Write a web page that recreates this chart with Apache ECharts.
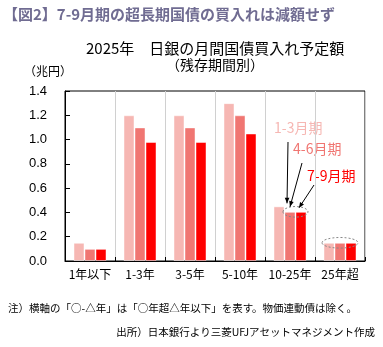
<!DOCTYPE html>
<html><head><meta charset="utf-8">
<script src="https://cdn.jsdelivr.net/npm/echarts@6/dist/echarts.min.js"></script>
<style>html,body{margin:0;padding:0;background:#fff;}#c{width:383px;height:347px;}</style>
</head><body><div id="c"></div>
<script>
const categories = ['1年以下','1-3年','3-5年','5-10年','10-25年','25年超'];
const q1 = [0.15, 1.2, 1.2, 1.3, 0.45, 0.15];
const q2 = [0.10, 1.1, 1.1, 1.2, 0.405, 0.15];
const q3 = [0.10, 0.98, 0.98, 1.05, 0.405, 0.15];
const seriesNames = ['1-3月期','4-6月期','7-9月期'];
const colors = ['#F6B7B3','#F07672','#FF0000'];
const yTicks = [0, 0.2, 0.4, 0.6, 0.8, 1.0, 1.2, 1.4];

const FONT = '"Noto Sans CJK JP", sans-serif';
const chart = echarts.init(document.getElementById('c'));
const data = [q1, q2, q3];
const option = {
  animation: false,
  textStyle: {fontFamily: FONT},
  grid: {left: 65, right: 18, top: 91, bottom: 86, show: true, borderColor: '#000', borderWidth: 1},
  xAxis: {
    type: 'category', data: categories,
    axisLine: {lineStyle: {color: '#000'}},
    axisTick: {show: true, inside: true, length: 4, interval: 0, lineStyle: {color: '#000'}},
    axisLabel: {color: '#000', fontSize: 12, fontFamily: FONT, margin: 7, interval: 0},
    splitLine: {show: true, interval: 0, lineStyle: {color: '#D0D0D0'}}
  },
  yAxis: {
    type: 'value', min: 0, max: 1.4, interval: 0.2,
    axisLine: {show: true, lineStyle: {color: '#000'}},
    axisTick: {show: true, inside: true, length: 5, lineStyle: {color: '#000'}},
    axisLabel: {color: '#000', fontSize: 13, fontFamily: 'Arial, "Liberation Sans", sans-serif', margin: 18,
      formatter: v => yTicks.includes(Math.round(v*10)/10) ? v.toFixed(1) : ''},
    splitLine: {show: false}
  },
  series: data.map((d, i) => ({
    name: seriesNames[i], type: 'bar', data: d,
    barWidth: 11, barGap: '0%',
    itemStyle: {color: colors[i], borderColor: 'rgba(255,255,255,0.45)', borderWidth: 1}
  })),
  graphic: []
};
chart.setOption(option);

// annotations
const g = [];
g.push({type:'text', left: 3, top: 7, style:{text:'【図2】7-9月期の超長期国債の買入れは減額せず', font:'bold 15px '+FONT, fill:'#706C92'}});
g.push({type:'text', left: 86, top: 41, style:{text:'2025年　日銀の月間国債買入れ予定額', font:'15px '+FONT, fill:'#000'}});
g.push({type:'text', left: 166, top: 58, style:{text:'（残存期間別）', font:'14px '+FONT, fill:'#000'}});
g.push({type:'text', left: 24, top: 65, style:{text:'（兆円）', font:'12px '+FONT, fill:'#000'}});
g.push({type:'text', left: 8, top: 303, style:{text:'注）横軸の「○-△年」は「○年超△年以下」を表す。物価連動債は除く。', font:'10.5px '+FONT, fill:'#000'}});
g.push({type:'text', right: 8, top: 327, style:{text:'出所）日本銀行より三菱UFJアセットマネジメント作成', font:'10.5px '+FONT, fill:'#000'}});

const p = (ci, v) => chart.convertToPixel({gridIndex:0}, [ci, v]);
// labels
const lab = [[274,121,seriesNames[0],colors[0]],[293,142,seriesNames[1],colors[1]],[307,169,seriesNames[2],colors[2]]];
lab.forEach(l => g.push({type:'text', left:l[0], top:l[1], style:{text:l[2], font:'14px '+FONT, fill:l[3]}}));
// ellipses around 4-6/7-9 tops
const e1 = p(4, q3[4]);
g.push({type:'ellipse', shape:{cx:e1[0]+5.5, cy:e1[1], rx:12.5, ry:5.3}, style:{fill:'none', stroke:'#888', lineWidth:1, lineDash:[2,2]}, z:100});
const e2 = p(5, q3[5]);
g.push({type:'ellipse', shape:{cx:e2[0], cy:e2[1], rx:18, ry:5.3}, style:{fill:'none', stroke:'#888', lineWidth:1, lineDash:[2,2]}, z:100});
// arrows
function arrow(x1,y1,x2,y2){
  g.push({type:'line', shape:{x1,y1,x2,y2}, style:{stroke:'#000', lineWidth:1}, z:101});
  const a = Math.atan2(y2-y1, x2-x1), L=6, w=0.4;
  g.push({type:'polygon', shape:{points:[[x2,y2],[x2-L*Math.cos(a-w), y2-L*Math.sin(a-w)],[x2-L*Math.cos(a+w), y2-L*Math.sin(a+w)]]}, style:{fill:'#000'}, z:101});
}
const b1 = p(4, q1[4]);
arrow(288,142, b1[0]-3, b1[1]-3);
arrow(302,163, 290, e1[1]-5);
arrow(314,185, 299, e1[1]-4);
chart.setOption({graphic: g});
</script></body></html>
